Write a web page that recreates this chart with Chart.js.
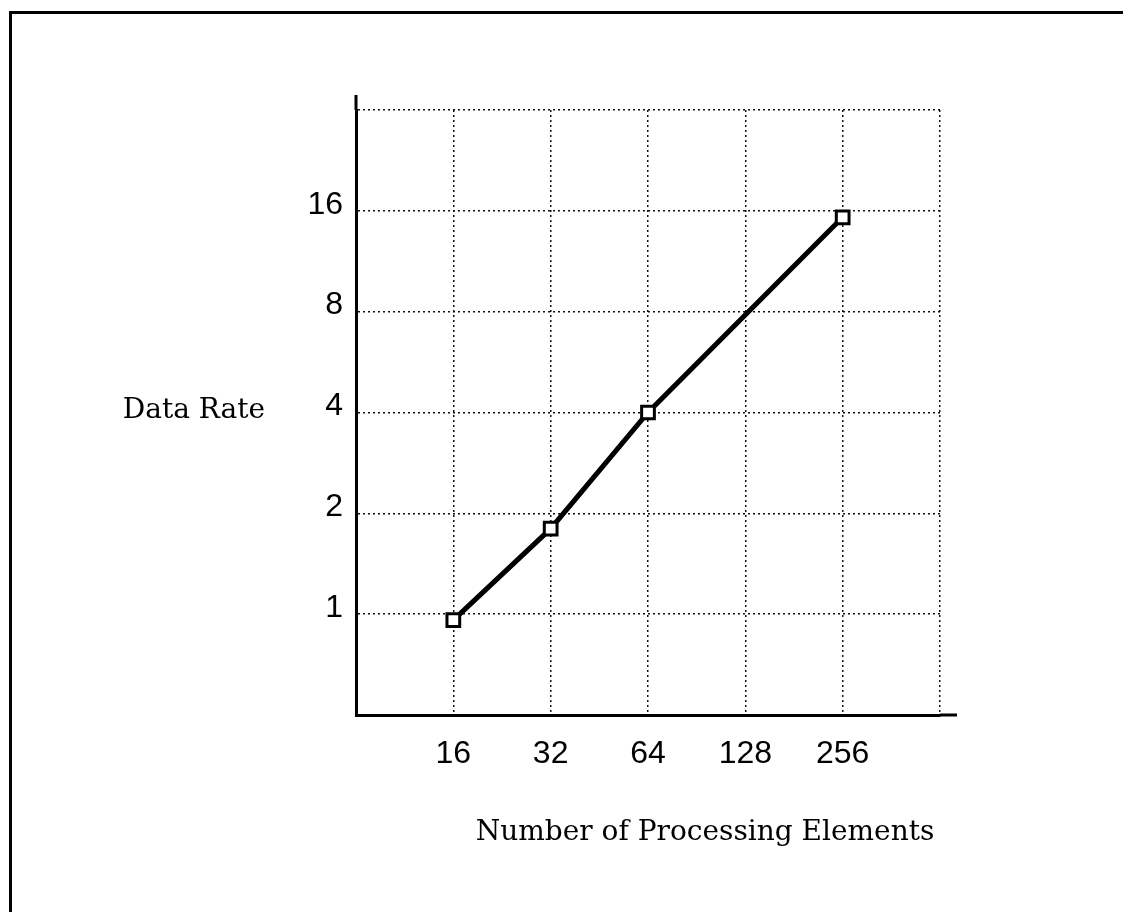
<!DOCTYPE html>
<html>
<head>
<meta charset="utf-8">
<title>Data Rate vs Number of Processing Elements</title>
<script src="https://cdn.jsdelivr.net/npm/chart.js@4/dist/chart.umd.min.js"></script>
<style>
  html, body { margin: 0; padding: 0; background: #fff; }
  #wrap { position: relative; width: 1123px; height: 912px; overflow: hidden; }
  #frame { position: absolute; left: 9px; top: 11px; right: -20px; bottom: -20px;
           border-top: 3px solid #000; border-left: 3px solid #000; pointer-events: none; }
  canvas { position: absolute; left: 0; top: 0; }
</style>
</head>
<body>
<div id="wrap">
  <canvas id="dataChart" width="1123" height="912"></canvas>
  <div id="frame"></div>
</div>
<script>
// values (log2 axes)
const peCounts = [16, 32, 64, 256];
const dataRates = [0.96, 1.8, 4, 15.3];
const xTicks = [16, 32, 64, 128, 256, 512];   // 512 = grid only
const yTicks = [1, 2, 4, 8, 16, 32];          // 32 = grid only
const xTitle = 'Number of Processing Elements';
const yTitle = 'Data Rate';

// axis titles + the bits of axis line that stick out past the grid
const decor = {
  id: 'decor',
  afterDraw(chart) {
    const { ctx, chartArea: a, scales: { x, y } } = chart;
    ctx.save();
    ctx.strokeStyle = '#000';
    ctx.lineWidth = 3;
    ctx.beginPath();
    ctx.moveTo(a.left, a.top);
    ctx.lineTo(a.left, a.top - 15);
    ctx.moveTo(a.right, a.bottom);
    ctx.lineTo(a.right + 17, a.bottom);
    ctx.stroke();

    ctx.fillStyle = '#000';
    ctx.textBaseline = 'alphabetic';
    ctx.font = '28px "DejaVu Serif"';
    ctx.textAlign = 'right';
    ctx.fillText(yTitle, a.left - 91, y.getPixelForValue(4) + 5);
    ctx.textAlign = 'center';
    ctx.fillText(xTitle, x.getPixelForValue(64) + 57, a.bottom + 125);
    ctx.restore();
  }
};

const gridStyle = { color: '#111', lineWidth: 1.5, drawTicks: false };
const borderStyle = { display: true, color: '#000', width: 3, dash: [2, 3] };
const tickFont = { family: '"Liberation Sans", Arial, sans-serif', size: 32 };

new Chart(document.getElementById('dataChart').getContext('2d'), {
  type: 'line',
  data: {
    datasets: [{
      label: yTitle,
      data: peCounts.map((v, i) => ({ x: v, y: dataRates[i] })),
      borderColor: '#000',
      borderWidth: 5,
      pointStyle: 'rect',
      pointRadius: 9,
      pointBorderWidth: 3,
      pointBackgroundColor: '#fff',
      pointBorderColor: '#000',
      tension: 0
    }]
  },
  options: {
    responsive: false,
    animation: false,
    devicePixelRatio: 1,
    layout: { padding: { top: 110, right: 183, left: 0, bottom: 0 } },
    plugins: { legend: { display: false }, tooltip: { enabled: false } },
    scales: {
      x: {
        type: 'logarithmic',
        min: 8,
        max: 512,
        afterBuildTicks: s => { s.ticks = xTicks.map(v => ({ value: v })); },
        afterFit: s => { s.height = 197; },
        grid: gridStyle,
        border: borderStyle,
        ticks: {
          autoSkip: false, maxRotation: 0, padding: 20, color: '#000', font: tickFont,
          callback: v => (v === 512 ? '' : String(v))
        }
      },
      y: {
        type: 'logarithmic',
        min: 0.5,
        max: 32,
        afterBuildTicks: s => { s.ticks = yTicks.map(v => ({ value: v })); },
        afterFit: s => { s.width = 356; },
        grid: gridStyle,
        border: borderStyle,
        ticks: {
          autoSkip: false, padding: 13, labelOffset: -6, color: '#000', font: tickFont,
          callback: v => (v === 32 ? '' : String(v))
        }
      }
    }
  },
  plugins: [decor]
});
</script>
</body>
</html>
